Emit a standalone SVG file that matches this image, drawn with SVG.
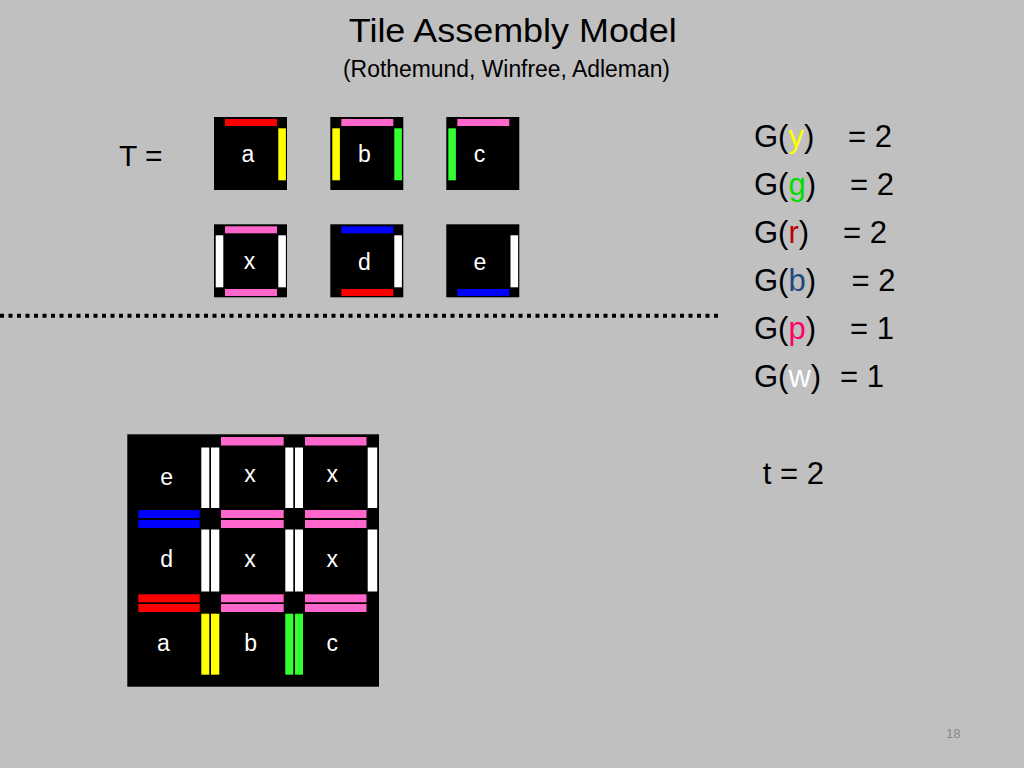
<svg xmlns="http://www.w3.org/2000/svg" width="1024" height="768" viewBox="0 0 1024 768">
<style>
text{font-family:"Liberation Sans",Arial,sans-serif}
.t{fill:#000}
.lbl{fill:#fff;font-size:23px;text-anchor:middle}
.big{font-size:30px;fill:#000}
.gl{font-size:31px;fill:#000}
.blk{fill:#000}
.R{fill:#ff0000}.Y{fill:#ffff00}.G{fill:#33ff33}.P{fill:#ff66cc}.B{fill:#0000ff}.W{fill:#ffffff}
</style>
<rect width="1024" height="768" fill="#c0c0c0"/>
<g id="title">
<text x="512.8" y="42" font-size="34" text-anchor="middle" textLength="328" lengthAdjust="spacingAndGlyphs" class="t">Tile Assembly Model</text>
<text x="506.5" y="77" font-size="23" text-anchor="middle" textLength="327" lengthAdjust="spacingAndGlyphs" class="t">(Rothemund, Winfree, Adleman)</text>
</g>
<text id="tset" x="119" y="166" class="big">T =</text>
<g id="tile-a"><rect x="214" y="117" width="73" height="73" class="blk"/><rect x="225" y="119" width="52" height="7" class="R"/><rect x="278.3" y="128.3" width="7.6" height="52" class="Y"/><text x="248" y="162" class="lbl">a</text></g>
<g id="tile-b"><rect x="330.3" y="117" width="73" height="73" class="blk"/><rect x="341.3" y="119" width="52" height="7" class="P"/><rect x="332.3" y="128.3" width="7.6" height="52" class="Y"/><rect x="394.3" y="128.3" width="7.6" height="52" class="G"/><text x="364.5" y="162" class="lbl">b</text></g>
<g id="tile-c"><rect x="446.3" y="117" width="73" height="73" class="blk"/><rect x="457.3" y="119" width="52" height="7" class="P"/><rect x="448.3" y="128.3" width="7.6" height="52" class="G"/><text x="479.5" y="162" class="lbl">c</text></g>
<g id="tile-x"><rect x="214" y="224.3" width="73" height="73" class="blk"/><rect x="225" y="226.3" width="52" height="7" class="P"/><rect x="225" y="289" width="52" height="7" class="P"/><rect x="215.7" y="235.3" width="7.6" height="52" class="W"/><rect x="278.3" y="235.3" width="7.6" height="52" class="W"/><text x="249.5" y="269" class="lbl">x</text></g>
<g id="tile-d"><rect x="330.3" y="224.3" width="73" height="73" class="blk"/><rect x="341.3" y="226.3" width="52" height="7" class="B"/><rect x="341.3" y="289" width="52" height="7" class="R"/><rect x="394.3" y="235.3" width="7.6" height="52" class="W"/><text x="364.5" y="270" class="lbl">d</text></g>
<g id="tile-e"><rect x="446.3" y="224.3" width="73" height="73" class="blk"/><rect x="457.3" y="289" width="52" height="7" class="B"/><rect x="510.5" y="235.3" width="7.6" height="52" class="W"/><text x="480" y="270" class="lbl">e</text></g>
<g id="connectors">
<line x1="0" y1="315.7" x2="721" y2="315.7" stroke="#000" stroke-width="4" stroke-dasharray="4 4.5"/>
</g>
<g id="glue">
<text x="754" y="147" class="gl">G(<tspan fill="#ffff00">y</tspan>)<tspan x="848">= 2</tspan></text>
<text x="754" y="195" class="gl">G(<tspan fill="#00dd00">g</tspan>)<tspan x="850">= 2</tspan></text>
<text x="754" y="243" class="gl">G(<tspan fill="#c00000">r</tspan>)<tspan x="843">= 2</tspan></text>
<text x="754" y="291" class="gl">G(<tspan fill="#1f497d">b</tspan>)<tspan x="851.5">= 2</tspan></text>
<text x="754" y="339" class="gl">G(<tspan fill="#ff0066">p</tspan>)<tspan x="850">= 1</tspan></text>
<text x="754" y="387" class="gl">G(<tspan fill="#ffffff">w</tspan>)<tspan x="840">= 1</tspan></text>
</g>
<text id="temp" x="762.7" y="483.5" class="gl">t = 2</text>
<g id="assembly">
<rect x="127.3" y="434.3" width="251.7" height="252.4" class="blk"/>
<rect x="221" y="437" width="62.7" height="8.5" class="P"/>
<rect x="305" y="437" width="61.5" height="8.5" class="P"/>
<rect x="201.3" y="447.5" width="8" height="60.5" class="W"/>
<rect x="211" y="447.5" width="8.3" height="60.5" class="W"/>
<rect x="285.3" y="447.5" width="8" height="60.5" class="W"/>
<rect x="295" y="447.5" width="8" height="60.5" class="W"/>
<rect x="367.7" y="447.5" width="9.5" height="60.5" class="W"/>
<rect x="138.3" y="510" width="61.4" height="8" class="B"/>
<rect x="138.3" y="520" width="61.4" height="8" class="B"/>
<rect x="221" y="510" width="62.7" height="8" class="P"/>
<rect x="221" y="520" width="62.7" height="8" class="P"/>
<rect x="305" y="510" width="61.5" height="8" class="P"/>
<rect x="305" y="520" width="61.5" height="8" class="P"/>
<rect x="201.3" y="529.5" width="8" height="62" class="W"/>
<rect x="211" y="529.5" width="8.3" height="62" class="W"/>
<rect x="285.3" y="529.5" width="8" height="62" class="W"/>
<rect x="295" y="529.5" width="8" height="62" class="W"/>
<rect x="367.7" y="529.5" width="9.5" height="62" class="W"/>
<rect x="138.3" y="594.3" width="61.4" height="8" class="R"/>
<rect x="138.3" y="604" width="61.4" height="8" class="R"/>
<rect x="221" y="594.3" width="62.7" height="8" class="P"/>
<rect x="221" y="604" width="62.7" height="8" class="P"/>
<rect x="305" y="594.3" width="61.5" height="8" class="P"/>
<rect x="305" y="604" width="61.5" height="8" class="P"/>
<rect x="201.3" y="613.7" width="8" height="61" class="Y"/>
<rect x="211" y="613.7" width="8.3" height="61" class="Y"/>
<rect x="285.3" y="613.7" width="8" height="61" class="G"/>
<rect x="295" y="613.7" width="8" height="61" class="G"/>
<text x="166.7" y="485" class="lbl">e</text>
<text x="250" y="482" class="lbl">x</text>
<text x="332.3" y="482" class="lbl">x</text>
<text x="166.7" y="567" class="lbl">d</text>
<text x="250" y="566.5" class="lbl">x</text>
<text x="332.3" y="566.5" class="lbl">x</text>
<text x="163.3" y="651" class="lbl">a</text>
<text x="250.7" y="651" class="lbl">b</text>
<text x="332.3" y="651" class="lbl">c</text>
</g>
<text id="page" x="953.3" y="737.5" font-size="13" fill="#888" text-anchor="middle">18</text>
</svg>
